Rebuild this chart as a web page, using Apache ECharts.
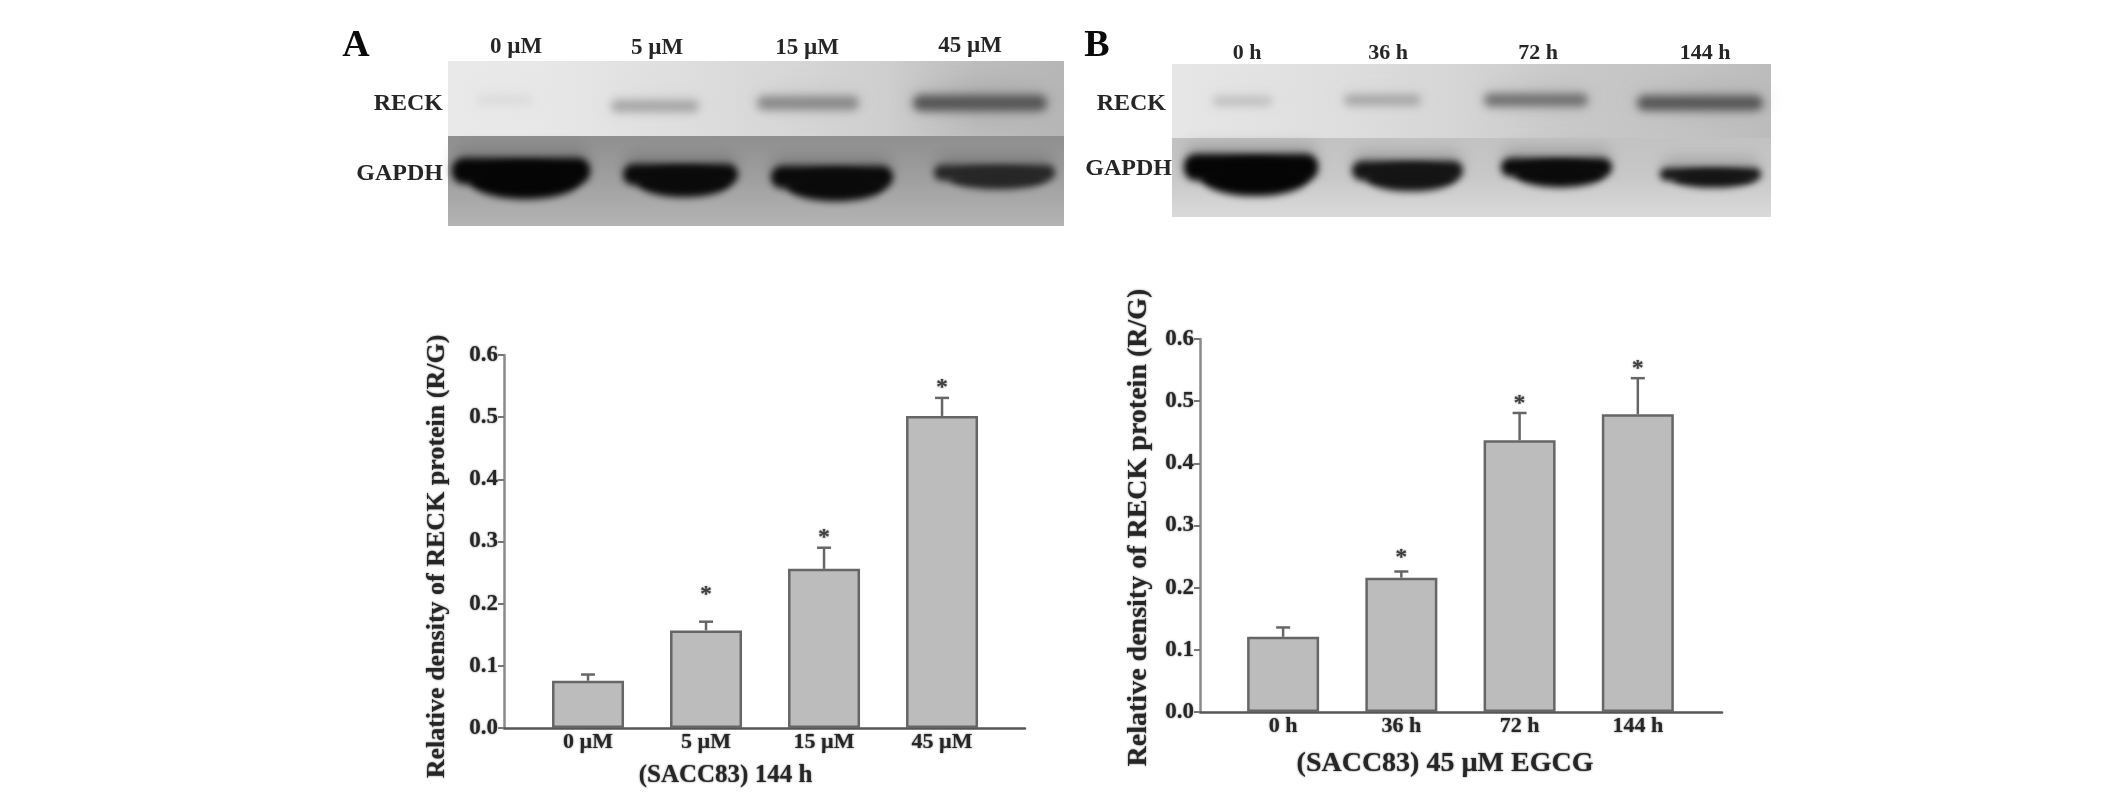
<!DOCTYPE html>
<html>
<head>
<meta charset="utf-8">
<title>RECK</title>
<style>
html, body { margin: 0; padding: 0; background: #fff; }
#main { width: 2126px; height: 798px; }
</style>
<script src="https://cdn.jsdelivr.net/npm/echarts@6/dist/echarts.min.js"></script>
</head>
<body>
<div id="main"></div>
<script>
// panel A, 144 h, by dose
var catsA = ['0 µM', '5 µM', '15 µM', '45 µM'];
var meanA = [0.076, 0.157, 0.256, 0.502];
var upperA = [0.086, 0.171, 0.290, 0.531];
var starA = [null, 0.22, 0.312, 0.553];

// panel B, 45 µM EGCG, by time
var catsB = ['0 h', '36 h', '72 h', '144 h'];
var meanB = [0.121, 0.216, 0.437, 0.479];
var upperB = [0.136, 0.226, 0.481, 0.537];
var starB = [null, 0.254, 0.502, 0.559];

var yTicks = [0, 0.1, 0.2, 0.3, 0.4, 0.5, 0.6];
var yTitle = 'Relative density of RECK protein (R/G)';
var xTitleA = '(SACC83) 144 h';
var xTitleB = '(SACC83) 45 µM EGCG';

var FONT = '"Liberation Serif", serif';
var INK = '#262626';

function pairs(values) {
    return values.map(function (v, i) {
        return [i + 1, v];
    });
}

function xAxisFor(cats, gridIndex, min, max, title, titleSize, gap, pad) {
    return {
        type: 'value',
        gridIndex: gridIndex,
        min: min,
        max: max,
        splitLine: {show: false},
        axisLine: {lineStyle: {color: '#555', width: 2.5}},
        axisTick: {show: false},
        axisLabel: {
            customValues: [1, 2, 3, 4],
            margin: 3,
            color: INK,
            fontFamily: FONT,
            fontWeight: 'bold',
            fontSize: 22,
            textShadowColor: '#666',
            textShadowBlur: 2,
            formatter: function (v) {
                return cats[v - 1];
            }
        },
        name: title,
        nameLocation: 'middle',
        nameGap: gap,
        nameTextStyle: {
            color: INK,
            fontFamily: FONT,
            fontWeight: 'bold',
            fontSize: titleSize,
            textShadowColor: '#666',
            textShadowBlur: 2,
            padding: pad
        }
    };
}

function yAxisFor(gridIndex, titleSize, gap, pad) {
    return {
        type: 'value',
        gridIndex: gridIndex,
        min: 0,
        max: 0.6,
        interval: 0.1,
        splitLine: {show: false},
        axisLine: {show: true, lineStyle: {color: '#8a8a8a', width: 2.5}},
        axisTick: {show: true, length: 6, lineStyle: {color: '#777', width: 2}},
        axisLabel: {
            margin: 6,
            color: INK,
            fontFamily: FONT,
            fontWeight: 'bold',
            fontSize: 23,
            textShadowColor: '#666',
            textShadowBlur: 2,
            customValues: yTicks,
            formatter: function (v) {
                return v.toFixed(1);
            }
        },
        name: yTitle,
        nameLocation: 'middle',
        nameGap: gap,
        nameTextStyle: {
            color: INK,
            fontFamily: FONT,
            fontWeight: 'bold',
            fontSize: titleSize,
            textShadowColor: '#666',
            textShadowBlur: 2,
            padding: pad
        }
    };
}

function barSeries(values, axisIndex) {
    return {
        type: 'bar',
        xAxisIndex: axisIndex,
        yAxisIndex: axisIndex,
        barWidth: 72,
        data: pairs(values),
        itemStyle: {color: '#bcbcbc', borderColor: '#666', borderWidth: 2.5},
        silent: true
    };
}

// error bars only go up, with a short cap
function errorSeries(means, uppers, axisIndex) {
    return {
        type: 'custom',
        xAxisIndex: axisIndex,
        yAxisIndex: axisIndex,
        silent: true,
        data: means.map(function (m, i) {
            return [i + 1, m, uppers[i]];
        }),
        encode: {x: 0, y: [1, 2]},
        renderItem: function (params, api) {
            var low = api.coord([api.value(0), api.value(1)]);
            var high = api.coord([api.value(0), api.value(2)]);
            var style = {stroke: '#666', lineWidth: 2.5, fill: null};
            return {
                type: 'group',
                children: [
                    {type: 'line', shape: {x1: low[0], y1: low[1], x2: high[0], y2: high[1]}, style: style},
                    {type: 'line', shape: {x1: high[0] - 7, y1: high[1], x2: high[0] + 7, y2: high[1]}, style: style}
                ]
            };
        }
    };
}

function starSeries(stars, axisIndex) {
    return {
        type: 'scatter',
        xAxisIndex: axisIndex,
        yAxisIndex: axisIndex,
        silent: true,
        symbolSize: 1,
        itemStyle: {color: 'transparent'},
        data: pairs(stars).filter(function (p) {
            return p[1] !== null;
        }),
        label: {
            show: true,
            position: 'inside',
            offset: [0, 4],
            formatter: '*',
            color: INK,
            fontFamily: FONT,
            fontWeight: 'bold',
            fontSize: 24,
            textShadowColor: '#666',
            textShadowBlur: 2
        }
    };
}

// western blot strips are drawn as soft shapes
function strip(x, y, w, h, stops, vertical) {
    var n = stops.length - 1;
    return {
        type: 'rect',
        silent: true,
        shape: {x: x, y: y, width: w, height: h},
        style: {
            fill: {
                type: 'linear',
                x: 0, y: 0,
                x2: vertical ? 0 : 1,
                y2: vertical ? 1 : 0,
                colorStops: stops.map(function (c, i) {
                    return {offset: i / n, color: c};
                })
            }
        }
    };
}

// shape sits off the page, only its blurred shadow lands on the strip
var OFF = 4000;
function soft(type, shape, color, blur) {
    return {
        type: type,
        silent: true,
        x: -OFF,
        shape: shape,
        style: {fill: color, shadowBlur: blur, shadowColor: color, shadowOffsetX: OFF}
    };
}

function faintBand(x0, x1, cy, h, color, haze) {
    var cx = (x0 + x1) / 2;
    var rx = (x1 - x0) / 2;
    return [
        soft('ellipse', {cx: cx, cy: cy - 3, rx: rx + 2, ry: h}, haze, 20),
        soft('rect', {x: x0 + 5, y: cy - h / 2, width: x1 - x0 - 10, height: h, r: h / 2}, color, 9)
    ];
}

function heavyBand(x0, x1, y0, y1, color) {
    var w = x1 - x0;
    var h = y1 - y0;
    return [
        soft('rect', {x: x0 + 4, y: y0 - 8, width: w - 8, height: h * 0.7, r: 8}, 'rgba(40,40,40,0.5)', 16),
        soft('rect', {x: x0 + 2, y: y0 + 1, width: w - 4, height: h * 0.6, r: 12}, color, 7),
        soft('ellipse', {cx: x0 + w * 0.53, cy: y0 + h * 0.56, rx: w * 0.39, ry: h * 0.42}, color, 7)
    ];
}

function text(str, x, y, size, align, color) {
    return {
        type: 'text',
        silent: true,
        x: x,
        y: y,
        style: {
            text: str,
            fill: color || INK,
            font: 'bold ' + size + 'px ' + FONT,
            textAlign: align || 'center',
            textVerticalAlign: 'middle',
            shadowBlur: color ? 0 : 2,
            shadowColor: '#666'
        }
    };
}

var graphics = [].concat(
    text('A', 356, 46, 38, 'center', '#0a0a0a'),
    text('B', 1097, 46, 38, 'center', '#0a0a0a'),

    strip(448, 61, 616, 75, ['#e9e9e9', '#e8e8e8', '#e2e2e2', '#dcdcdc', '#d6d6d6', '#cecece', '#bcbcbc', '#b6b6b6']),
    strip(448, 136, 616, 90, ['#8f8f8f', '#a0a0a0', '#b4b4b4'], true),
    faintBand(472, 538, 100, 8, '#dadada', 'rgba(210,210,210,0.4)'),
    faintBand(606, 704, 106, 12, '#a6a6a6', 'rgba(180,180,180,0.35)'),
    faintBand(752, 864, 103, 14, '#8a8a8a', 'rgba(160,160,160,0.4)'),
    faintBand(908, 1052, 103, 16, '#565656', 'rgba(110,110,110,0.45)'),
    heavyBand(450, 592, 157, 200, '#050505'),
    heavyBand(621, 740, 163, 198, '#0a0a0a'),
    heavyBand(769, 895, 165, 202, '#0a0a0a'),
    heavyBand(932, 1057, 164, 190, '#262626'),

    strip(1172, 64, 599, 74, ['#e6e6e6', '#e2e2e2', '#dcdcdc', '#d4d4d4', '#c8c8c8', '#c4c4c4', '#bcbcbc']),
    strip(1172, 138, 599, 79, ['#c2c2c2', '#c8c8c8', '#dadada'], true),
    faintBand(1208, 1277, 101, 9, '#bdbdbd', 'rgba(200,200,200,0.35)'),
    faintBand(1339, 1426, 100, 11, '#a6a6a6', 'rgba(185,185,185,0.35)'),
    faintBand(1479, 1593, 100, 13, '#707070', 'rgba(140,140,140,0.4)'),
    faintBand(1632, 1768, 103, 15, '#565656', 'rgba(120,120,120,0.4)'),
    heavyBand(1182, 1320, 153, 197, '#050505'),
    heavyBand(1350, 1465, 160, 192, '#141414'),
    heavyBand(1499, 1614, 157, 188, '#0a0a0a'),
    heavyBand(1658, 1763, 167, 188, '#141414'),

    text(catsA[0], 516, 47, 23),
    text(catsA[1], 657, 48, 23),
    text(catsA[2], 807, 48, 23),
    text(catsA[3], 970, 46, 23),
    text('RECK', 443, 104, 24, 'right'),
    text('GAPDH', 443, 174, 24, 'right'),

    text(catsB[0], 1247, 53, 22),
    text(catsB[1], 1388, 53, 22),
    text(catsB[2], 1538, 53, 22),
    text(catsB[3], 1705, 53, 22),
    text('RECK', 1166, 104, 24, 'right'),
    text('GAPDH', 1172, 169, 24, 'right')
);

var chart = echarts.init(document.getElementById('main'), null, {renderer: 'canvas'});
var option = {
    backgroundColor: '#fff',
    animation: false,
    grid: [
        {left: 504, top: 355, width: 521, height: 373},
        {left: 1200, top: 339, width: 522, height: 373}
    ],
    xAxis: [
        xAxisFor(catsA, 0, 0.288, 4.703, xTitleA, 25, 35, [0, 78, 0, 0]),
        xAxisFor(catsB, 1, 0.297, 4.712, xTitleB, 28, 38, [0, 32, 0, 0])
    ],
    yAxis: [
        yAxisFor(0, 26, 54, [0, 30, 0, 0]),
        yAxisFor(1, 28, 47, [0, 4, 0, 0])
    ],
    series: [
        barSeries(meanA, 0),
        errorSeries(meanA, upperA, 0),
        starSeries(starA, 0),
        barSeries(meanB, 1),
        errorSeries(meanB, upperB, 1),
        starSeries(starB, 1)
    ],
    graphic: {elements: graphics}
};
chart.setOption(option);
</script>
</body>
</html>
